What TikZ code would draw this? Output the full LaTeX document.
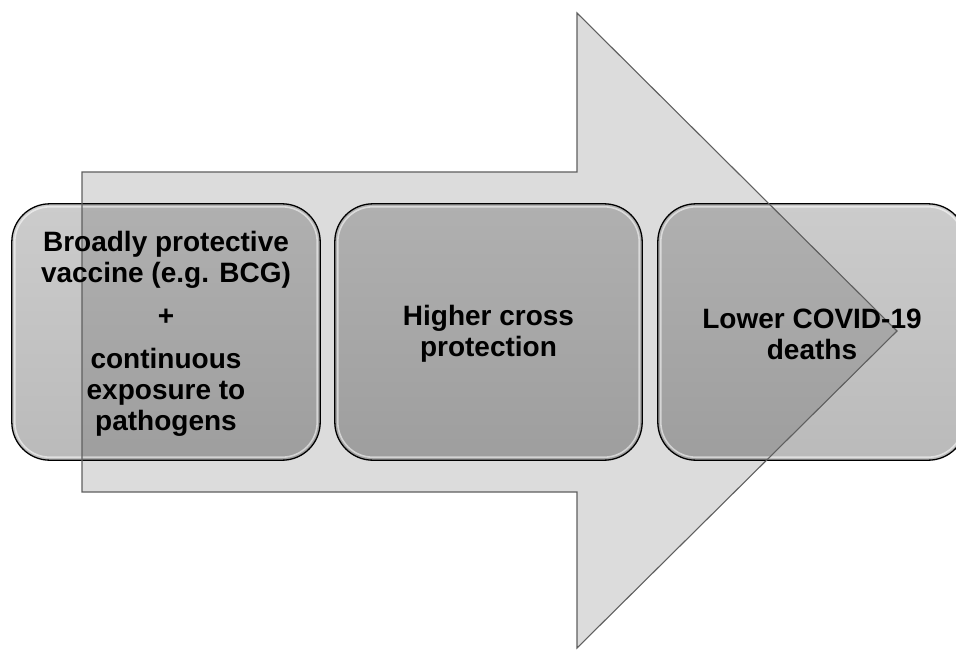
\documentclass[tikz,border=0pt]{standalone}
\usepackage{fontspec}
\setmainfont{Liberation Sans}
\definecolor{arrowfill}{RGB}{220,220,220}
\definecolor{arrowline}{RGB}{95,95,95}
\definecolor{boxtop}{RGB}{204,204,204}
\definecolor{boxbot}{RGB}{186,186,186}
\definecolor{boxtopdark}{RGB}{176,176,176}
\definecolor{boxbotdark}{RGB}{158,158,158}
\tikzset{
  boxshape/.style={rounded corners=38pt, minimum width=308pt, minimum height=256pt, inner sep=0pt, top color=boxtop, bottom color=boxbot},
  boxline/.style={draw=black, line width=1.3pt, rounded corners=38pt},
  boxdark/.style={rounded corners=38pt, top color=boxtopdark, bottom color=boxbotdark},
  boxhi/.style={draw=white, opacity=0.55, line width=1.6pt, rounded corners=35pt},
  label/.style={align=center, font=\bfseries\fontsize{28}{31}\selectfont, text=black, inner sep=0pt},
  arrowshape/.style={fill=arrowfill},
  arrowedge/.style={draw=arrowline, line width=1.1pt, line join=miter}
}
\begin{document}
\begin{tikzpicture}[x=1pt,y=-1pt]
\useasboundingbox (0,0) rectangle (956,650);
\clip (0,0) rectangle (956,650);
\def\arrowpath{(82,172) -- (577,172) -- (577,13) -- (897,331) -- (577,648) -- (577,492) -- (82,492) -- cycle}
% arrow fill
\fill[arrowshape] \arrowpath;
% boxes
\node[boxshape] (b1) at (166,332) {};
\node[boxshape, minimum width=307pt] (b2) at (488.5,332) {};
\node[boxshape] (b3) at (812,332) {};
% darker overlap where the translucent arrow covers boxes
\begin{scope}
  \clip \arrowpath;
  \foreach \b in {b1,b2,b3} {
    \fill[boxdark] (\b.south west) rectangle (\b.north east);
  }
\end{scope}
% box highlights and outlines
\foreach \b in {b1,b2,b3} {
  \draw[boxhi] ([shift={(3,-3)}]\b.south west) rectangle ([shift={(-3,3)}]\b.north east);
  \draw[boxline] (\b.south west) rectangle (\b.north east);
}
% arrow outline
\draw[arrowedge] \arrowpath;
% texts
\node[label] (t1) at ([yshift=-2pt]b1.center) {Broadly protective\\vaccine (e.g. BCG)\\[12pt]+\\[12pt]continuous\\exposure to\\pathogens};
\node[label] (t2) at ([yshift=-2pt]b2.center) {Higher cross\\protection};
\node[label] (t3) at ([yshift=-2pt]b3.center) {Lower COVID-19\\deaths};
\end{tikzpicture}
\end{document}
